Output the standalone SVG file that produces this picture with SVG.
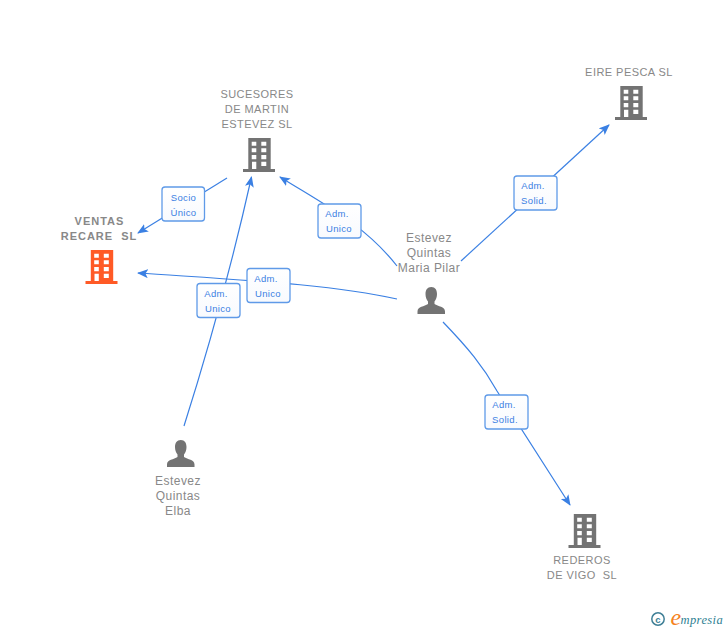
<svg xmlns="http://www.w3.org/2000/svg" width="728" height="630" viewBox="0 0 728 630">
<style>
text{font-family:"Liberation Sans",Arial,sans-serif;white-space:pre}
.n{font-size:11px;fill:#888;text-anchor:middle;letter-spacing:.45px}
.p{font-size:12px;letter-spacing:.45px}
.b{font-weight:bold;letter-spacing:1px}
.l{font-size:9.500px;fill:#3b80e3;text-anchor:middle;letter-spacing:.35px}
.c{fill:none;stroke:#3b80e3;stroke-width:1.200}
.r{fill:url(#g);stroke:#5f9ae8;stroke-width:1.300}
</style>
<defs>
<linearGradient id="g" x1="0" y1="0" x2="0" y2="1"><stop offset="0" stop-color="#fff"/><stop offset="1" stop-color="#f8fafe"/></linearGradient>
<marker id="a" markerWidth="12" markerHeight="10" refX="10" refY="4.500" orient="auto" markerUnits="userSpaceOnUse"><path d="M0 0L11 4.500L0 9L2.500 4.500Z" fill="#3b80e3"/></marker>
<path id="bd" fill-rule="evenodd" d="M5.300 0H27.700V31H32V34H0V31H5.300ZM8.700 3.700V7.700H13.300V3.700ZM18.300 3.700V7.700H23.300V3.700ZM8.700 10.300V14.300H13.300V10.300ZM18.300 10.300V14.300H23.300V10.300ZM8.700 17V21.300H13.300V17ZM18.300 17V21.300H23.300V17ZM9 23.700V31H13.300V23.700ZM18.300 23.700V28H23.300V23.700Z"/>
<path id="pe" d="M13.800 0C9.800 0 8 3 8 7C8 10 9 12.500 10.500 14.500V17C7 19.500 0 19.500 0 24.500V27H27.500V24.500C27.500 19.500 20.500 19.500 17 17V14.500C18.500 12.500 19.500 10 19.500 7C19.500 3 17.800 0 13.800 0Z"/>
</defs>
<g id="connectors">
<path class="c" marker-end="url(#a)" d="M227 178L138 233"/>
<path class="c" marker-end="url(#a)" d="M184 426Q224 300 251.500 177"/>
<path class="c" marker-end="url(#a)" d="M397 299C330 284 240 280 138 273"/>
<path class="c" marker-end="url(#a)" d="M397 266C365 225 325 205 280 177"/>
<path class="c" marker-end="url(#a)" d="M461 261L609 125"/>
<path class="c" marker-end="url(#a)" d="M443 322C468 348 483 366 497 391L570 505"/>
</g>
<g id="edge-labels">
<g><rect class="r" x="162" y="187" width="42.500" height="34" rx="3"/><text class="l" x="183.500" y="200.500">Socio</text><text class="l" x="183.500" y="215.500">Único</text></g>
<g><rect class="r" x="318" y="204" width="43" height="34" rx="3"/><text class="l" x="337" y="217">Adm.</text><text class="l" x="339" y="232">Unico</text></g>
<g><rect class="r" x="247" y="268.500" width="43" height="34" rx="3"/><text class="l" x="266" y="282">Adm.</text><text class="l" x="268" y="297">Unico</text></g>
<g><rect class="r" x="197" y="283.500" width="43" height="34" rx="3"/><text class="l" x="216" y="297">Adm.</text><text class="l" x="218" y="312">Unico</text></g>
<g><rect class="r" x="514" y="176" width="43" height="34" rx="3"/><text class="l" x="533" y="189">Adm.</text><text class="l" x="534" y="204">Solid.</text></g>
<g><rect class="r" x="485" y="395" width="43" height="34" rx="3"/><text class="l" x="504" y="408">Adm.</text><text class="l" x="505" y="423">Solid.</text></g>
</g>
<g id="node-ventas"><use href="#bd" x="85.500" y="250" fill="#ff5a26"/><text class="n b" x="99.500" y="225">VENTAS</text><text class="n b" x="99" y="240">RECARE  SL</text></g>
<g id="node-sucesores"><use href="#bd" x="243" y="138" fill="#737373"/><text class="n" x="257" y="98">SUCESORES</text><text class="n" x="257" y="113">DE MARTIN</text><text class="n" x="257" y="128">ESTEVEZ SL</text></g>
<g id="node-eire"><use href="#bd" x="615" y="86" fill="#737373"/><text class="n" x="629" y="76">EIRE PESCA SL</text></g>
<g id="node-rederos"><use href="#bd" x="568.500" y="514" fill="#737373"/><text class="n" x="582" y="564">REDEROS</text><text class="n" x="582" y="579">DE VIGO  SL</text></g>
<g id="node-pilar"><use href="#pe" x="417.500" y="287" fill="#737373"/><text class="n p" x="429" y="242">Estevez</text><text class="n p" x="429" y="257">Quintas</text><text class="n p" x="429" y="272">Maria Pilar</text></g>
<g id="node-elba"><use href="#pe" x="167" y="440" fill="#737373"/><text class="n p" x="178" y="485">Estevez</text><text class="n p" x="178" y="500">Quintas</text><text class="n p" x="178" y="515">Elba</text></g>
<g id="logo"><circle cx="658" cy="619" r="6.200" fill="none" stroke="#3f7f96" stroke-width="1.500"/><text x="658" y="622.500" font-size="9.500" fill="#3f7f96" text-anchor="middle" font-weight="bold">c</text><text x="670.500" y="624.500" font-size="24" fill="#f58220" font-style="italic" style="font-family:'Liberation Serif',serif">e</text><text x="680.500" y="624" font-size="12.500" fill="#2f7f93" font-style="italic" letter-spacing=".4" style="font-family:'Liberation Serif',serif">mpresia</text></g>
</svg>
